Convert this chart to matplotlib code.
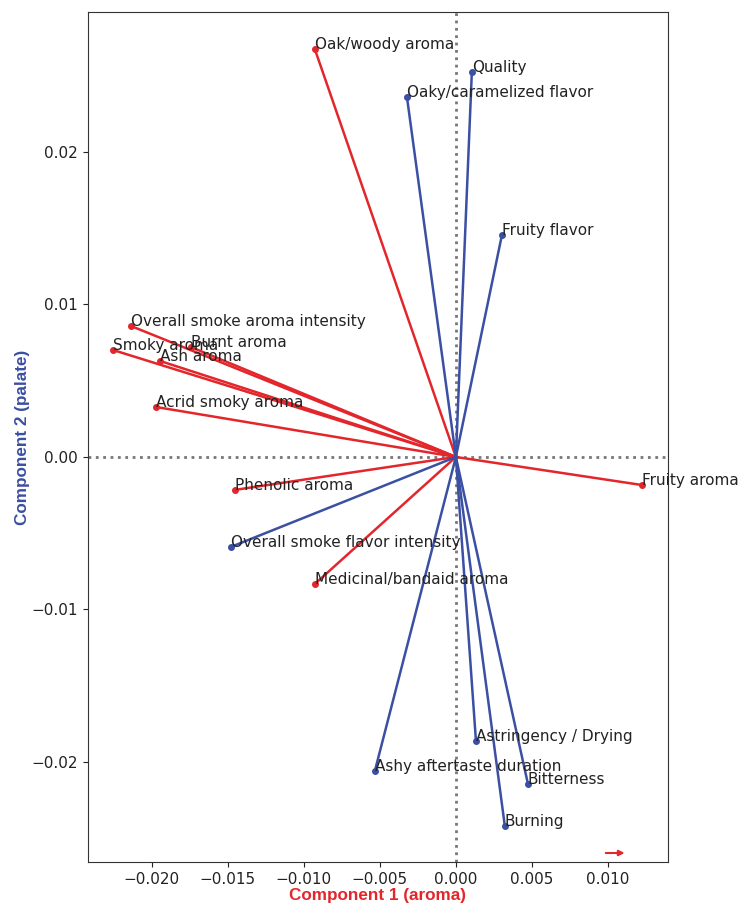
import matplotlib
matplotlib.use("Agg")
import matplotlib.pyplot as plt

# Aroma loadings (component 1, component 2)
aroma_labels = ["Oak/woody aroma", "Overall smoke aroma intensity", "Smoky aroma",
                "Burnt aroma", "Ash aroma", "Acrid smoky aroma", "Phenolic aroma",
                "Medicinal/bandaid aroma", "Fruity aroma"]
aroma_x = [-0.00928, -0.02138, -0.02257, -0.01743, -0.01947, -0.01974, -0.01454, -0.00928, 0.01224]
aroma_y = [0.02675, 0.00859, 0.00702, 0.00721, 0.00630, 0.00328, -0.00216, -0.00833, -0.00184]

# Palate loadings (component 1, component 2)
palate_labels = ["Quality", "Oaky/caramelized flavor", "Fruity flavor",
                 "Overall smoke flavor intensity", "Astringency / Drying",
                 "Ashy aftertaste duration", "Bitterness", "Burning"]
palate_x = [0.00105, -0.00322, 0.00303, -0.01480, 0.00132, -0.00533, 0.00474, 0.00322]
palate_y = [0.02525, 0.02361, 0.01456, -0.00590, -0.01862, -0.02059, -0.02144, -0.02420]

x_ticks = [-0.020, -0.015, -0.010, -0.005, 0.000, 0.005, 0.010]
y_ticks = [-0.02, -0.01, 0.00, 0.01, 0.02]

RED = "#e3262b"
BLUE = "#3b4fa3"

fig = plt.figure(figsize=(7.48, 9.07), dpi=100)
ax = fig.add_axes([0.1176, 0.0496, 0.7754, 0.9372])

ax.axhline(0, color="#777777", linestyle=":", linewidth=2, zorder=1)
ax.axvline(0, color="#777777", linestyle=":", linewidth=2, zorder=1)

for lbl, x, y in zip(aroma_labels, aroma_x, aroma_y):
    ax.plot([0, x], [0, y], color=RED, linewidth=1.8, zorder=2)
    ax.plot(x, y, "o", color=RED, markersize=4, zorder=3)
    ax.text(x, y, lbl, fontsize=11, color="#222222", zorder=4)

for lbl, x, y in zip(palate_labels, palate_x, palate_y):
    ax.plot([0, x], [0, y], color=BLUE, linewidth=1.8, zorder=2)
    ax.plot(x, y, "o", color=BLUE, markersize=4, zorder=3)
    ax.text(x, y, lbl, fontsize=11, color="#222222", zorder=4)

ax.set_xlim(-0.0242, 0.01395)
ax.set_ylim(-0.02656, 0.02918)
ax.set_xticks(x_ticks)
ax.set_xticklabels([f"{t:.3f}".replace("-", "\u2212") for t in x_ticks])
ax.set_yticks(y_ticks)
ax.set_yticklabels([f"{t:.2f}".replace("-", "\u2212") for t in y_ticks])
ax.tick_params(labelsize=11, colors="#222222")

for s in ax.spines.values():
    s.set_color("#333333")

ax.set_xlabel("Component 1 (aroma)", color=RED, fontsize=12.3,
              fontweight="bold", family="Liberation Sans", labelpad=1)
ax.set_ylabel("Component 2 (palate)", color=BLUE, fontsize=12.3,
              fontweight="bold", family="Liberation Sans", labelpad=1)

# small direction arrow in the lower-right corner
ax.annotate("", xy=(0.93, 0.0106), xytext=(0.888, 0.0106), xycoords="axes fraction",
            arrowprops=dict(arrowstyle="-|>", color=RED, lw=1.5, mutation_scale=8))

fig.savefig("out.png", dpi=100)
